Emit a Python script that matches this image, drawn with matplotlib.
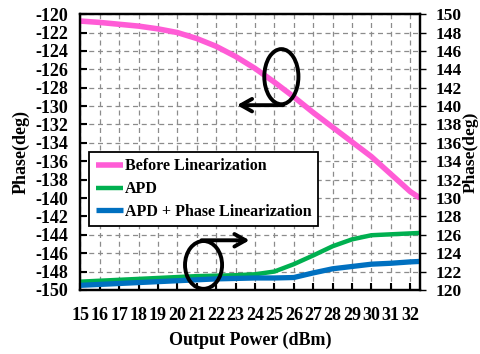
import matplotlib.pyplot as plt
from matplotlib.patches import Ellipse

plt.rcParams['font.family'] = ['Liberation Serif', 'DejaVu Serif']
plt.rcParams['font.weight'] = 'bold'
plt.rcParams['axes.unicode_minus'] = False

power = [15, 16, 17, 18, 19, 20, 21, 22, 23, 24, 25, 26, 27, 28, 29, 30, 31, 32, 32.5]
# phase before linearization (left axis)
before = [-120.75, -120.9, -121.1, -121.3, -121.6, -122.0, -122.65, -123.5, -124.6, -125.9,
          -127.4, -129.0, -130.7, -132.3, -133.9, -135.5, -137.4, -139.3, -140.0]
# phase with APD and with APD + phase linearization (right axis)
apd = [120.9, 121.0, 121.1, 121.2, 121.3, 121.4, 121.5, 121.55, 121.6, 121.7,
       122.0, 122.8, 123.75, 124.75, 125.5, 125.95, 126.05, 126.15, 126.2]
apd_phase = [120.5, 120.6, 120.7, 120.8, 120.9, 121.0, 121.1, 121.2, 121.25, 121.3,
             121.3, 121.35, 121.85, 122.3, 122.55, 122.8, 122.9, 123.05, 123.1]

x_ticks = list(range(15, 33))
left_ticks = list(range(-150, -119, 2))
right_ticks = list(range(120, 151, 2))

fig = plt.figure(figsize=(4.81, 3.54), dpi=100)
ax = fig.add_axes([0.167, 0.181, 0.706, 0.779])
ax2 = ax.twinx()

l1, = ax.plot(power, before, color='#FF5CD6', lw=4, solid_capstyle='butt',
              label='Before Linearization')
l2, = ax2.plot(power, apd, color='#00B050', lw=3.2, solid_capstyle='butt', label='APD')
l3, = ax2.plot(power, apd_phase, color='#0070C0', lw=3.8, solid_capstyle='butt',
               label='APD + Phase Linearization')

ax.set_xlim(15, 32.5)
ax.set_ylim(-150, -120)
ax2.set_ylim(120, 150)
ax.set_xticks(x_ticks)
ax.set_yticks(left_ticks)
ax2.set_yticks(right_ticks)

ax.grid(True, linestyle=(0, (4, 3)), color='#8c8c8c', lw=0.9)
ax.tick_params(axis='x', direction='in', length=5, width=1.5, pad=12, labelsize=13)
ax.tick_params(axis='y', direction='in', length=5, width=1.5, pad=9, labelsize=13)
ax2.tick_params(axis='y', direction='out', length=4, width=1, pad=7, labelsize=12.5)
for s in ax.spines.values():
    s.set_linewidth(1.6)
for s in ax2.spines.values():
    s.set_linewidth(1.6)

ax.set_xlabel('Output Power (dBm)', fontsize=13, fontweight='bold', labelpad=6)
ax.set_ylabel('Phase(deg)', fontsize=13, fontweight='bold', labelpad=4)
ax2.set_ylabel('Phase(deg)', fontsize=12.5, fontweight='bold', labelpad=1)

leg = ax2.legend(handles=[l1, l2, l3], loc='upper left', bbox_to_anchor=(0.026, 0.5),
                 fontsize=11.5, frameon=True, fancybox=False, framealpha=1,
                 edgecolor='black', handlelength=1.7, handletextpad=0.15,
                 borderpad=0.4, labelspacing=0.42, borderaxespad=0)
leg.get_frame().set_linewidth(1.3)

# circles with arrows pointing to the axis each curve belongs to
arrow = dict(arrowstyle='->,head_length=0.8,head_width=0.45', lw=2.8, color='black')
ax2.add_patch(Ellipse((25.36, 143.2), 1.76, 6.0, fill=False, lw=2.8,
                      color='black', clip_on=False, zorder=5))
ax2.annotate('', xy=(22.93, 140.1), xytext=(25.6, 140.1), arrowprops=arrow, zorder=5)
ax2.add_patch(Ellipse((21.35, 122.72), 1.91, 5.2, fill=False, lw=2.8,
                      color='black', clip_on=False, zorder=5))
ax2.annotate('', xy=(23.86, 125.4), xytext=(21.1, 125.4), arrowprops=arrow, zorder=5)

plt.savefig('out.png', dpi=100)
